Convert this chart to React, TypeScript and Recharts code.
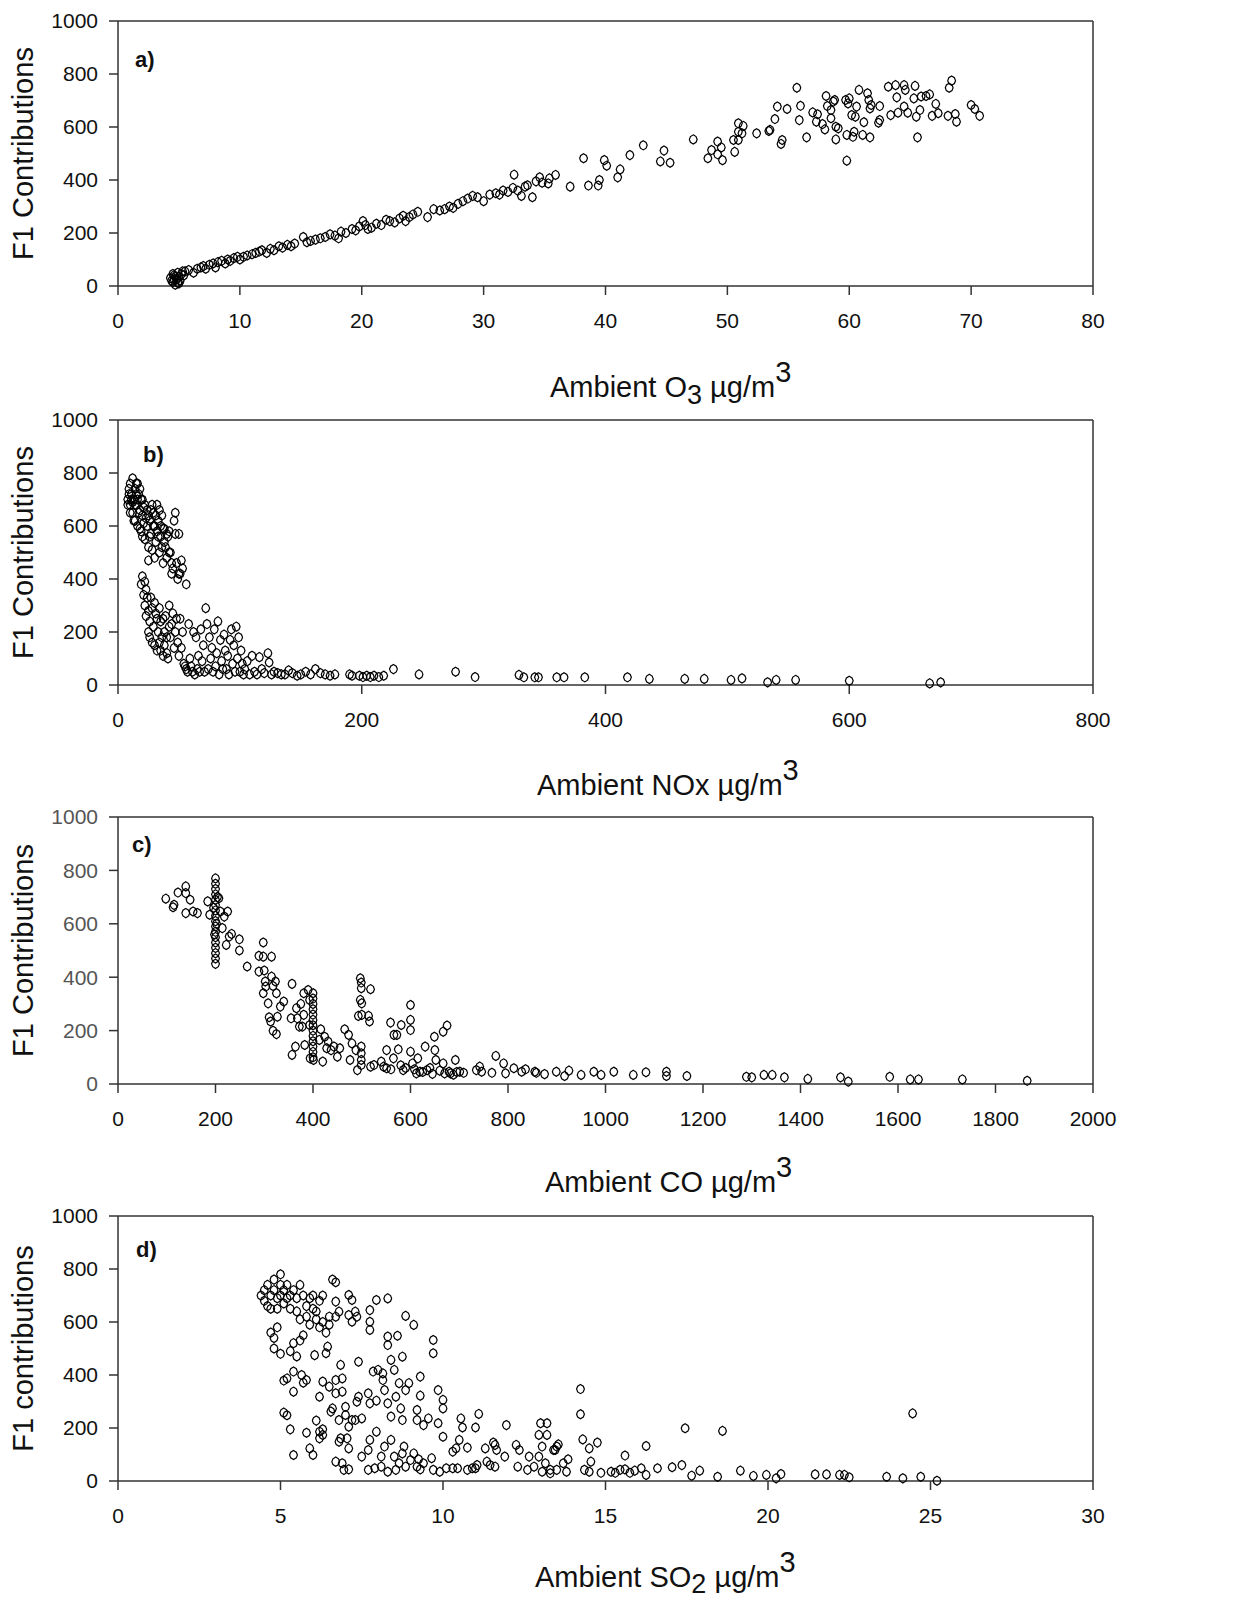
import React from 'react';
import { ScatterChart, Scatter, XAxis, YAxis, ReferenceLine } from 'recharts';

const FONT = '"Liberation Sans", Arial, Helvetica, sans-serif';

const yTicks = [0, 200, 400, 600, 800, 1000];
const o3Ticks = [0, 10, 20, 30, 40, 50, 60, 70, 80];
const noxTicks = [0, 200, 400, 600, 800];
const coTicks = [0, 200, 400, 600, 800, 1000, 1200, 1400, 1600, 1800, 2000];
const so2Ticks = [0, 5, 10, 15, 20, 25, 30];

// a) F1 vs ambient O3
const o3Points: [number, number][] = [
  [4.3, 30], [4.4, 20], [4.5, 45], [4.5, 15], [4.6, 40], [4.7, 5], [4.7, 35], [4.8, 25], [4.9, 50], [5.0, 35],
  [5.0, 10], [5.1, 20], [5.2, 45], [5.3, 55], [4.6, 25], [4.9, 12], [5.4, 40],
  [5.5, 55], [5.8, 60], [6.2, 50], [6.5, 65], [6.8, 70], [7.0, 75], [7.2, 65], [7.5, 80], [7.8, 85], [8.0, 70],
  [8.2, 90], [8.5, 95], [8.8, 85], [9.0, 100], [9.2, 95], [9.5, 105], [9.8, 110], [10.0, 100],
  [10.3, 110], [10.6, 115], [11.0, 120], [11.3, 125], [11.6, 130], [11.8, 135], [12.2, 125], [12.5, 140],
  [12.8, 135], [13.2, 150], [13.5, 145], [13.9, 155], [14.2, 150], [14.5, 160],
  [15.2, 185], [15.5, 165], [15.8, 170], [16.2, 175], [16.6, 180], [17.0, 185], [17.4, 195], [17.8, 190],
  [18.1, 180], [18.3, 205], [18.7, 200], [19.2, 215], [19.5, 210], [19.8, 225], [20.1, 245], [20.3, 230],
  [20.5, 215], [20.8, 220],
  [21.2, 235], [21.6, 230], [22.0, 250], [22.3, 245], [22.7, 240], [23.1, 255], [23.4, 265], [23.6, 245],
  [23.9, 260], [24.2, 270], [24.6, 280], [25.4, 260],
  [25.9, 290], [26.4, 285], [26.8, 290], [27.2, 300], [27.5, 295], [27.9, 310], [28.3, 320], [28.7, 330],
  [29.1, 340], [29.5, 335], [30.0, 320], [30.5, 345],
  [31.0, 350], [31.3, 345], [31.6, 360], [32.0, 355], [32.4, 370], [32.8, 360], [32.5, 420], [33.1, 340],
  [33.4, 375], [33.6, 380], [34.0, 335], [34.3, 395], [34.6, 410], [34.8, 390],
  [35.3, 387], [35.9, 419], [35.4, 406], [37.1, 375], [38.2, 482], [38.6, 379], [39.4, 379], [39.5, 400],
  [39.9, 475], [40.1, 454], [41.0, 410], [41.2, 440], [42.0, 494], [43.1, 531], [44.5, 470], [44.8, 511],
  [45.3, 465], [47.2, 553], [48.4, 482], [48.7, 513], [49.2, 545], [49.2, 497], [49.5, 523], [49.6, 475],
  [50.5, 551], [50.6, 506], [50.9, 614], [50.9, 582], [51.2, 576], [50.9, 551], [51.3, 604], [52.4, 576],
  [53.4, 585], [53.5, 589], [53.9, 630], [54.1, 677], [54.4, 536], [54.5, 551], [54.9, 668], [55.7, 748],
  [55.9, 626], [56.0, 680], [56.5, 561], [57.0, 655], [57.3, 620], [57.4, 648], [57.8, 611], [58.0, 591],
  [58.1, 717], [58.2, 679], [58.5, 664], [58.7, 696], [58.8, 702], [58.5, 633], [58.9, 553], [59.1, 595],
  [58.9, 601], [59.7, 702], [59.9, 689], [60.0, 708], [59.8, 570], [59.8, 473], [60.2, 645], [60.5, 639],
  [60.4, 582], [60.3, 563], [60.8, 740], [60.6, 677], [61.1, 570], [61.2, 618], [61.5, 727], [61.6, 702],
  [61.7, 670], [61.7, 561], [61.8, 683], [62.5, 679], [62.4, 616], [62.5, 626], [63.2, 752], [63.4, 645],
  [63.8, 758], [63.9, 712], [64.0, 654], [64.5, 758], [64.6, 740], [64.5, 677], [64.8, 654], [65.4, 755],
  [65.3, 708], [65.5, 639], [65.6, 561], [65.8, 664], [65.9, 715], [66.3, 717], [66.6, 723], [66.8, 642],
  [67.1, 687], [67.3, 652], [68.1, 642], [68.2, 748], [68.4, 775], [68.7, 649], [68.8, 620], [70.0, 683],
  [70.3, 668], [70.7, 642],
];

// b) F1 vs ambient NOx
const noxPoints: [number, number][] = [
  [8, 700], [8, 680], [9, 740], [9, 720], [10, 680], [10, 760], [10, 650], [11, 720], [11, 700], [12, 650],
  [12, 780], [12, 690], [13, 700], [13, 620], [14, 740], [14, 620], [14, 680], [15, 680], [15, 760], [15, 720],
  [16, 760], [16, 600], [16, 700], [17, 720], [17, 650], [18, 660], [18, 740], [18, 590], [19, 580], [19, 700],
  [20, 700], [20, 640], [20, 560], [21, 610], [21, 670], [22, 550], [22, 680], [23, 630], [24, 660], [24, 600],
  [25, 520], [25, 470], [25, 640], [26, 620], [26, 560], [27, 570], [27, 660], [28, 680], [28, 510], [29, 650],
  [29, 600], [30, 600], [30, 480], [31, 540], [31, 640], [32, 680], [32, 580], [33, 620], [33, 560], [34, 500],
  [34, 660], [35, 560], [35, 600], [36, 640], [36, 520], [37, 460], [37, 590], [38, 590], [38, 540], [39, 520],
  [40, 480], [40, 570], [41, 560], [42, 580], [42, 500], [43, 500], [44, 420], [44, 460], [45, 440], [46, 620],
  [47, 650], [47, 570], [48, 460], [49, 400], [50, 570], [50, 420], [51, 420], [52, 470], [53, 440], [56, 380],
  [19, 380], [20, 410], [21, 340], [22, 390], [22, 300], [23, 260], [23, 360], [24, 330], [25, 200], [25, 280],
  [26, 240], [26, 180], [27, 330], [28, 160], [28, 290], [29, 220], [30, 310], [30, 150], [31, 270], [32, 250],
  [32, 130], [33, 200], [34, 290], [34, 160], [35, 130], [35, 240], [36, 180], [37, 110], [37, 250], [38, 150],
  [38, 200], [39, 260], [40, 120], [40, 180], [41, 100], [42, 300], [42, 220], [43, 180], [44, 230], [45, 270],
  [46, 140], [47, 200], [48, 250], [49, 160], [50, 110], [51, 250], [52, 140], [53, 200], [54, 80], [55, 70],
  [56, 60], [57, 50], [58, 230], [59, 100], [60, 70], [61, 50], [62, 200], [63, 40], [64, 180], [65, 60],
  [66, 110], [67, 50], [68, 210], [69, 90], [70, 150], [71, 50], [72, 290], [73, 230], [74, 60], [75, 180],
  [76, 100], [77, 140], [78, 50], [79, 210], [80, 70], [81, 120], [82, 240], [83, 40], [84, 170], [85, 90],
  [86, 60], [87, 190], [88, 130], [89, 60], [90, 110], [91, 40], [92, 170], [93, 210], [94, 80], [95, 150],
  [96, 50], [97, 220], [98, 100], [99, 180], [100, 50], [101, 130], [102, 80], [103, 40], [104, 60], [106, 90],
  [108, 40], [110, 110], [112, 50], [114, 40], [116, 105], [118, 60], [120, 45], [123, 120], [124, 85], [126, 40],
  [128, 50], [131, 45], [134, 40], [137, 40], [140, 55], [143, 45], [147, 35], [150, 40], [154, 50], [158, 40],
  [162, 60], [166, 45], [170, 40], [174, 35], [178, 40], [190, 40], [192, 35], [198, 35], [201, 30], [204, 35],
  [207, 30], [210, 35], [214, 30], [218, 35], [226, 60], [247, 40], [277, 50], [293, 30], [329, 38], [333, 29],
  [342, 29], [345, 29], [360, 29], [366, 29], [383, 29], [418, 29], [436, 23], [465, 23], [481, 23], [503, 19],
  [512, 25], [533, 10], [540, 19], [556, 19], [600, 16], [666, 6], [675, 10],
];

// c) F1 vs ambient CO
const coPoints: [number, number][] = [
  [98, 694], [113, 662], [115, 671], [123, 717], [139, 740], [139, 715], [139, 640], [148, 690], [154, 646],
  [163, 640], [184, 684], [188, 634],
  [200, 450], [200, 470], [200, 490], [200, 510], [200, 530], [200, 550], [200, 570], [200, 590], [200, 610],
  [200, 630], [200, 650], [200, 670], [200, 690], [200, 710], [200, 730], [200, 750], [200, 770], [198, 560],
  [202, 600], [196, 660], [204, 700],
  [207, 696], [210, 646], [214, 584], [218, 627], [225, 646], [222, 521], [228, 552], [233, 562], [249, 542],
  [249, 500], [265, 440], [289, 480], [298, 530], [289, 421], [298, 477], [300, 425], [302, 384], [298, 340],
  [303, 365], [308, 302], [310, 250], [313, 234], [315, 477], [315, 402], [318, 367], [318, 199], [323, 384],
  [325, 340], [327, 252], [325, 187], [333, 290], [340, 309], [357, 375], [355, 246], [357, 109], [366, 284],
  [364, 140], [368, 246], [372, 215], [375, 300], [378, 215], [381, 340], [381, 259], [383, 146], [390, 352],
  [393, 315], [393, 221],
  [400, 340], [400, 320], [400, 300], [400, 280], [400, 260], [400, 240], [400, 220], [400, 200], [400, 180],
  [400, 160], [400, 140], [400, 120], [400, 100],
  [394, 96], [401, 90], [413, 165], [416, 205], [420, 84], [424, 177], [428, 134], [431, 159], [437, 127],
  [443, 140], [450, 102], [455, 134], [465, 205], [473, 184], [476, 90], [480, 152], [488, 127], [491, 52],
  [493, 255], [497, 396], [499, 380], [499, 359], [497, 315], [500, 302], [500, 259], [499, 140], [499, 115],
  [499, 90], [499, 71], [514, 255], [516, 234], [518, 355], [518, 65], [525, 71], [540, 84], [551, 127],
  [551, 59], [559, 230], [566, 184], [572, 184], [575, 130], [565, 96], [581, 221], [585, 52], [600, 296],
  [600, 240], [600, 202], [600, 121], [604, 77], [615, 96], [619, 46], [630, 140], [634, 52], [649, 177],
  [650, 127], [652, 90], [667, 196], [675, 219], [667, 77], [679, 46], [682, 40], [692, 90], [701, 46],
  [709, 42], [590, 60], [608, 55], [612, 40], [625, 45], [640, 60], [645, 38], [660, 50], [670, 40], [688, 35],
  [695, 45], [580, 70], [560, 55], [545, 65],
  [735, 52], [742, 65], [746, 46], [767, 42], [775, 105], [791, 77], [795, 40], [812, 59], [828, 46], [836, 55],
  [855, 46], [858, 42], [875, 37], [899, 46], [916, 30], [925, 50], [950, 34], [976, 46], [991, 34], [1017, 46],
  [1057, 34], [1083, 44], [1125, 46], [1125, 30], [1167, 30], [1289, 27], [1300, 25], [1325, 34], [1342, 34],
  [1367, 25], [1415, 19], [1482, 25], [1498, 9], [1583, 27], [1625, 17], [1642, 17], [1732, 17], [1865, 12],
];

// d) F1 vs ambient SO2
const so2Points: [number, number][] = [
  [4.4, 700], [4.5, 680], [4.5, 720], [4.6, 660], [4.6, 740], [4.7, 700], [4.7, 650], [4.8, 760], [4.8, 720],
  [4.9, 690], [4.9, 650], [5.0, 780], [5.0, 740], [5.0, 700], [5.1, 720], [5.1, 670], [5.2, 740], [5.2, 690],
  [5.3, 650], [5.3, 700], [5.4, 720], [5.5, 690], [5.5, 640], [5.6, 740], [5.6, 610], [5.7, 700], [5.8, 660],
  [5.8, 620], [5.9, 690], [5.9, 590], [6.0, 650], [6.0, 700], [6.1, 610], [6.1, 640], [6.2, 580], [6.2, 680],
  [6.3, 600], [6.3, 700], [6.4, 560], [6.5, 620], [6.6, 760], [6.7, 750], [6.5, 590],
  [4.7, 560], [4.8, 540], [4.8, 500], [4.9, 580], [5.0, 480], [5.3, 490], [5.4, 520], [5.5, 470], [5.6, 530],
  [5.7, 550],
  [5.1, 258], [5.2, 248], [5.3, 195], [5.4, 98], [5.1, 379], [5.2, 387], [5.4, 413], [5.4, 337], [5.65, 400],
  [5.7, 371], [5.8, 381], [5.8, 182], [5.9, 123], [6.0, 98], [6.1, 228], [6.2, 186], [6.2, 161], [6.3, 195],
  [6.3, 174], [6.2, 318], [6.3, 375], [6.05, 475], [6.4, 482], [6.45, 507],
  [6.5, 356], [6.55, 262], [6.6, 274], [6.7, 381], [6.7, 331], [6.7, 73], [6.8, 148], [6.85, 161], [6.8, 230],
  [6.85, 438], [6.9, 387], [6.9, 337], [6.95, 42], [6.9, 67], [7.0, 280], [7.0, 249], [7.05, 161], [7.1, 123],
  [7.1, 44], [7.1, 205], [7.2, 230], [7.3, 230], [7.35, 299], [7.4, 318], [7.4, 450], [7.5, 236],
  [6.7, 677], [6.8, 639], [7.1, 702], [7.2, 683], [7.1, 626], [7.2, 601], [7.3, 639], [7.35, 620], [6.7, 620],
  [7.75, 645], [7.75, 601], [7.75, 570], [7.95, 683], [8.3, 689], [7.7, 331], [7.75, 293], [7.85, 413],
  [7.95, 303], [8.0, 419], [8.15, 406], [8.2, 343], [8.15, 381], [8.3, 513], [8.3, 545], [8.4, 457], [8.5, 419],
  [8.6, 548], [8.75, 469], [8.85, 623], [9.1, 589], [8.3, 293], [8.4, 243], [8.55, 318], [8.65, 369], [8.7, 274],
  [8.75, 230], [8.85, 343], [8.95, 369], [9.2, 268], [9.2, 230], [9.3, 394], [9.3, 322], [9.4, 211], [9.55, 236],
  [9.7, 532], [9.7, 482], [9.85, 343], [10.0, 306], [10.0, 274], [9.85, 218], [10.0, 167],
  [7.5, 92], [7.7, 117], [7.75, 155], [7.95, 186], [7.7, 42], [7.9, 48], [8.1, 92], [8.1, 54], [8.2, 130],
  [8.3, 35], [8.4, 155], [8.5, 92], [8.55, 42], [8.65, 67], [8.75, 104], [8.8, 130], [8.85, 54], [9.0, 79],
  [9.1, 104], [9.2, 54], [9.25, 82], [9.3, 44], [9.4, 67], [9.65, 86], [9.7, 42], [9.9, 35], [10.1, 48],
  [10.3, 48], [10.45, 48],
  [10.3, 111], [10.4, 123], [10.5, 155], [10.55, 236], [10.6, 202], [10.75, 126], [10.75, 42], [10.9, 48],
  [11.0, 48], [11.0, 202], [11.1, 253], [11.05, 60], [11.3, 123], [11.35, 73], [11.45, 60], [11.55, 145],
  [11.6, 136], [11.65, 117], [11.6, 54], [11.9, 92], [11.95, 211], [12.25, 136], [12.3, 54], [12.35, 117],
  [12.6, 42], [12.65, 92], [12.8, 54], [12.95, 174], [12.95, 92], [13.0, 218], [13.05, 130], [13.05, 35],
  [13.15, 67], [13.2, 218], [13.2, 174], [13.3, 42], [13.45, 117],
  [13.5, 130], [13.55, 138], [13.4, 117], [13.7, 67], [13.85, 82], [13.8, 35], [13.3, 29], [13.5, 42],
  [14.23, 347], [14.23, 252], [14.3, 157], [14.5, 123], [14.75, 145], [14.55, 73], [14.35, 42], [14.5, 35],
  [14.86, 31], [15.17, 35], [15.3, 31], [15.45, 42], [15.6, 44], [15.75, 31], [15.9, 39], [16.1, 48],
  [16.25, 23], [15.6, 96], [16.25, 132], [16.6, 48], [17.05, 52], [17.35, 60], [17.45, 199], [17.65, 20],
  [17.9, 39], [18.45, 16], [18.6, 189], [19.15, 39], [19.55, 19], [19.95, 23], [20.25, 10], [20.4, 26],
  [21.45, 25], [21.8, 25], [22.2, 23], [22.35, 23], [22.5, 14], [23.65, 16], [24.15, 10], [24.45, 255],
  [24.7, 16], [25.2, 1],
];

const Marker = (props: any) => {
  const { cx, cy } = props;
  if (cx == null || cy == null) return null;
  const w = 3.9;
  const h = 4.6;
  const d = `M${cx},${cy - h} L${cx + w * 0.72},${cy - h * 0.62} L${cx + w},${cy} L${cx + w * 0.72},${cy + h * 0.62} L${cx},${cy + h} L${cx - w * 0.72},${cy + h * 0.62} L${cx - w},${cy} L${cx - w * 0.72},${cy - h * 0.62} Z`;
  return <path d={d} fill="none" stroke="#000" strokeWidth={1.2} />;
};

type PanelProps = {
  top: number;
  plotTop: number;
  plotBottom: number;
  points: [number, number][];
  xMax: number;
  xTicks: number[];
  tag: string;
  tagLeft: number;
  tagTop: number;
  yTitle: string;
  yTickColor: string;
  titleX: number;
  titleDy: number;
  title: React.ReactNode;
};

function Panel({ top, plotTop, plotBottom, points, xMax, xTicks, tag, tagLeft, tagTop, yTitle, yTickColor, titleX, titleDy, title }: PanelProps) {
  const H = 430;
  const W = 1236;
  const xAxisH = 60;
  const data = points.map(([x, y]) => ({ x, y }));
  const axisStroke = { stroke: '#333', strokeWidth: 1.5 };
  const midY = (plotTop + plotBottom) / 2 - top;
  return (
    <div style={{ position: 'absolute', left: 0, top, width: W, height: H }}>
      <ScatterChart
        width={W}
        height={H}
        margin={{ top: plotTop - top, right: W - 1093, bottom: top + H - plotBottom - xAxisH, left: 58 }}
      >
        <XAxis
          type="number"
          dataKey="x"
          domain={[0, xMax]}
          ticks={xTicks}
          interval={0}
          height={xAxisH}
          tickSize={9}
          tickMargin={18}
          axisLine={axisStroke}
          tickLine={axisStroke}
          tick={{ fill: '#111', fontSize: 21, fontFamily: FONT }}
          label={{
            content: () => (
              <text x={titleX} y={plotBottom - top + titleDy} fontSize={29} fontFamily={FONT} fill="#111">
                {title}
              </text>
            ),
          }}
        />
        <YAxis
          type="number"
          dataKey="y"
          domain={[0, 1000]}
          ticks={yTicks}
          interval={0}
          width={60}
          tickSize={9}
          tickMargin={11}
          axisLine={axisStroke}
          tickLine={axisStroke}
          tick={{ fill: yTickColor, fontSize: 21, fontFamily: FONT }}
          label={{
            content: () => (
              <text
                x={33}
                y={midY}
                transform={`rotate(-90, 33, ${midY})`}
                textAnchor="middle"
                fontSize={29}
                fontFamily={FONT}
                fill="#111"
              >
                {yTitle}
              </text>
            ),
          }}
        />
        <ReferenceLine y={1000} stroke="#333" strokeWidth={1.5} />
        <ReferenceLine x={xMax} stroke="#333" strokeWidth={1.5} />
        <Scatter data={data} shape={Marker} isAnimationActive={false} />
      </ScatterChart>
      <div
        style={{
          position: 'absolute',
          left: tagLeft,
          top: tagTop - top,
          fontFamily: FONT,
          fontWeight: 'bold',
          fontSize: 22,
          lineHeight: '20px',
          color: '#111',
        }}
      >
        {tag}
      </div>
    </div>
  );
}

export default function App() {
  return (
    <div style={{ position: 'absolute', left: 0, top: 0, width: 1236, height: 1600, background: '#fff', overflow: 'hidden' }}>
      <Panel
        top={0}
        plotTop={21}
        plotBottom={286}
        points={o3Points}
        xMax={80}
        xTicks={o3Ticks}
        tag="a)"
        tagLeft={135}
        tagTop={50}
        yTitle="F1 Contributions"
        yTickColor="#111"
        titleX={550}
        titleDy={111}
        title={
          <>
            Ambient O<tspan dy={7} fontSize={27}>3</tspan>
            <tspan dy={-7}> µg/m</tspan>
            <tspan dy={-15}>3</tspan>
          </>
        }
      />
      <Panel
        top={400}
        plotTop={420}
        plotBottom={685}
        points={noxPoints}
        xMax={800}
        xTicks={noxTicks}
        tag="b)"
        tagLeft={143}
        tagTop={445}
        yTitle="F1 Contributions"
        yTickColor="#111"
        titleX={537}
        titleDy={110}
        title={
          <>
            Ambient NOx µg/m<tspan dy={-15}>3</tspan>
          </>
        }
      />
      <Panel
        top={800}
        plotTop={817}
        plotBottom={1084}
        points={coPoints}
        xMax={2000}
        xTicks={coTicks}
        tag="c)"
        tagLeft={132}
        tagTop={835}
        yTitle="F1 Contributions"
        yTickColor="#555"
        titleX={545}
        titleDy={108}
        title={
          <>
            Ambient CO µg/m<tspan dy={-15}>3</tspan>
          </>
        }
      />
      <Panel
        top={1200}
        plotTop={1216}
        plotBottom={1481}
        points={so2Points}
        xMax={30}
        xTicks={so2Ticks}
        tag="d)"
        tagLeft={136}
        tagTop={1240}
        yTitle="F1 contributions"
        yTickColor="#111"
        titleX={535}
        titleDy={106}
        title={
          <>
            Ambient SO<tspan dy={6} fontSize={27}>2</tspan>
            <tspan dy={-6}> µg/m</tspan>
            <tspan dy={-15}>3</tspan>
          </>
        }
      />
    </div>
  );
}
